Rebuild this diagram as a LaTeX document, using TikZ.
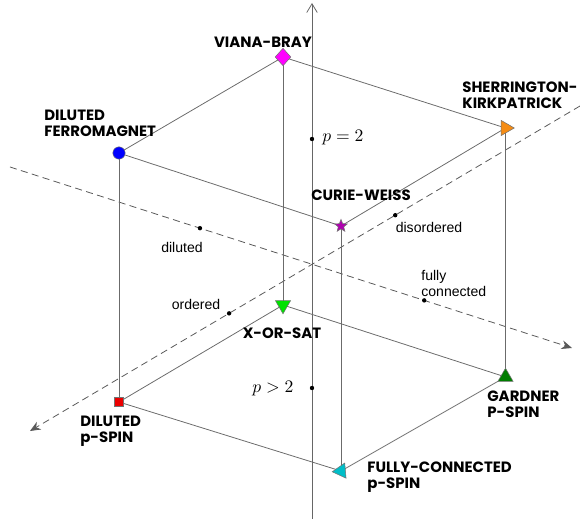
\documentclass[tikz,border=0pt]{standalone}
\usepackage{fontspec}
\setsansfont{Liberation Sans}
\newfontfamily\labfont{Poppins}
\usetikzlibrary{shapes.geometric,arrows.meta,calc}
\definecolor{mkmag}{RGB}{255,0,255}
\definecolor{mkblue}{RGB}{0,0,255}
\definecolor{mkpurp}{RGB}{175,0,175}
\definecolor{mkorange}{RGB}{245,140,20}
\definecolor{mkgreen}{RGB}{0,225,0}
\definecolor{mkdgreen}{RGB}{0,125,0}
\definecolor{mkred}{RGB}{235,0,0}
\definecolor{mkcyan}{RGB}{0,190,200}
\begin{document}
\begin{tikzpicture}[x=0.02cm,y=-0.02cm,
  edge/.style={draw=black!58, line width=0.45pt},
  vaxis/.style={draw=black!60, line width=0.45pt, -{Straight Barb[length=5pt,width=6pt]}},
  axisdash/.style={draw=black!65, line width=0.45pt, dash pattern=on 4pt off 2.5pt, -{Stealth[length=6pt,width=5pt]}},
  lab/.style={font=\labfont\bfseries\fontsize{8.5}{9}\selectfont, align=left, inner sep=0pt},
  small/.style={font=\sffamily\fontsize{8}{9.6}\selectfont, align=left, inner sep=0pt},
  dot/.style={circle, fill=black, inner sep=0pt, minimum size=2.5pt},
  mk/.style={draw=black!55, line width=0.3pt, inner sep=0pt},
]
\useasboundingbox (0,0) rectangle (580,519);

% cube vertices
\coordinate (VB) at (283,57);
\coordinate (DF) at (119,153);
\coordinate (CW) at (341,226);
\coordinate (SK) at (505.5,128);
\coordinate (XO) at (283,305);
\coordinate (DP) at (119,402);
\coordinate (GP) at (505.5,377);
\coordinate (FC) at (341,471);

% axes end points
\coordinate (Vb) at (312,519);
\coordinate (Vt) at (312,3);
\coordinate (L1a) at (10,167);
\coordinate (L1b) at (572,348);
\coordinate (L2a) at (580,106);
\coordinate (L2b) at (30,431);

% axes
\draw[vaxis] (Vb) -- (Vt);
\draw[axisdash] (L1a) -- (L1b);
\draw[axisdash] (L2a) -- (L2b);

% cube edges
\draw[edge] (VB) -- (DF) -- (CW) -- (SK) -- cycle;
\draw[edge] (XO) -- (DP) -- (FC) -- (GP) -- cycle;
\draw[edge] (VB) -- (XO);
\draw[edge] (DF) -- (DP);
\draw[edge] (CW) -- (FC);
\draw[edge] (SK) -- (GP);

% axis dots
\node[dot] (dil) at ($(L1a)!0.338!(L1b)$) {};
\node[dot] (fc) at ($(L1a)!0.737!(L1b)$) {};
\node[dot] (dis) at ($(L2a)!0.336!(L2b)$) {};
\node[dot] (ord) at ($(L2a)!0.638!(L2b)$) {};
\node[dot] (p2) at (312,139) {};
\node[dot] (pg2) at (312,388) {};

% axis labels
\node[small] (tdil) at (182,247) {diluted};
\node[small] (tord) at (196,304) {ordered};
\node[small] (tdis) at (429,227) {disordered};
\node[small, anchor=west] (tfc) at (421,283.5) {fully\\connected};
\node[inner sep=0pt] (tp2) at (343,138) {$p=2$};
\node[inner sep=0pt] (tpg2) at (273,389) {$p>2$};

% markers
\node[mk, diamond, fill=mkmag, minimum width=9pt, minimum height=10pt] (mVB) at (VB) {};
\node[mk, circle, fill=mkblue, minimum size=7pt] (mDF) at (DF) {};
\node[mk, star, star points=5, star point ratio=2.3, fill=mkpurp, minimum size=7.5pt] (mCW) at (CW) {};
\node[mk, regular polygon, regular polygon sides=3, fill=mkorange, minimum size=10pt, rotate=-90] (mSK) at (SK) {};
\node[mk, regular polygon, regular polygon sides=3, fill=mkgreen, minimum size=10pt, rotate=180] (mXO) at (XO) {};
\node[mk, rectangle, fill=mkred, minimum size=5.3pt] (mDP) at (DP) {};
\node[mk, regular polygon, regular polygon sides=3, fill=mkdgreen, minimum size=10pt] (mGP) at (GP) {};
\node[mk, regular polygon, regular polygon sides=3, fill=mkcyan, minimum size=10pt, rotate=95] (mFC) at (FC) {};

% model labels
\node[lab] (lVB) at (263,42) {VIANA-BRAY};
\node[lab, anchor=west] (lDF) at (44,123) {DILUTED\\FERROMAGNET};
\node[lab, anchor=west] (lSK) at (462,95) {SHERRINGTON-\\KIRKPATRICK};
\node[lab] (lCW) at (361,195) {CURIE-WEISS};
\node[lab] (lXO) at (282,333) {X-OR-SAT};
\node[lab, anchor=west] (lDP) at (80,431.5) {DILUTED\\p-SPIN};
\node[lab, anchor=west] (lGP) at (487,404) {GARDNER\\P-SPIN};
\node[lab, anchor=west] (lFC) at (367,477.5) {FULLY-CONNECTED\\p-SPIN};
\end{tikzpicture}
\end{document}
